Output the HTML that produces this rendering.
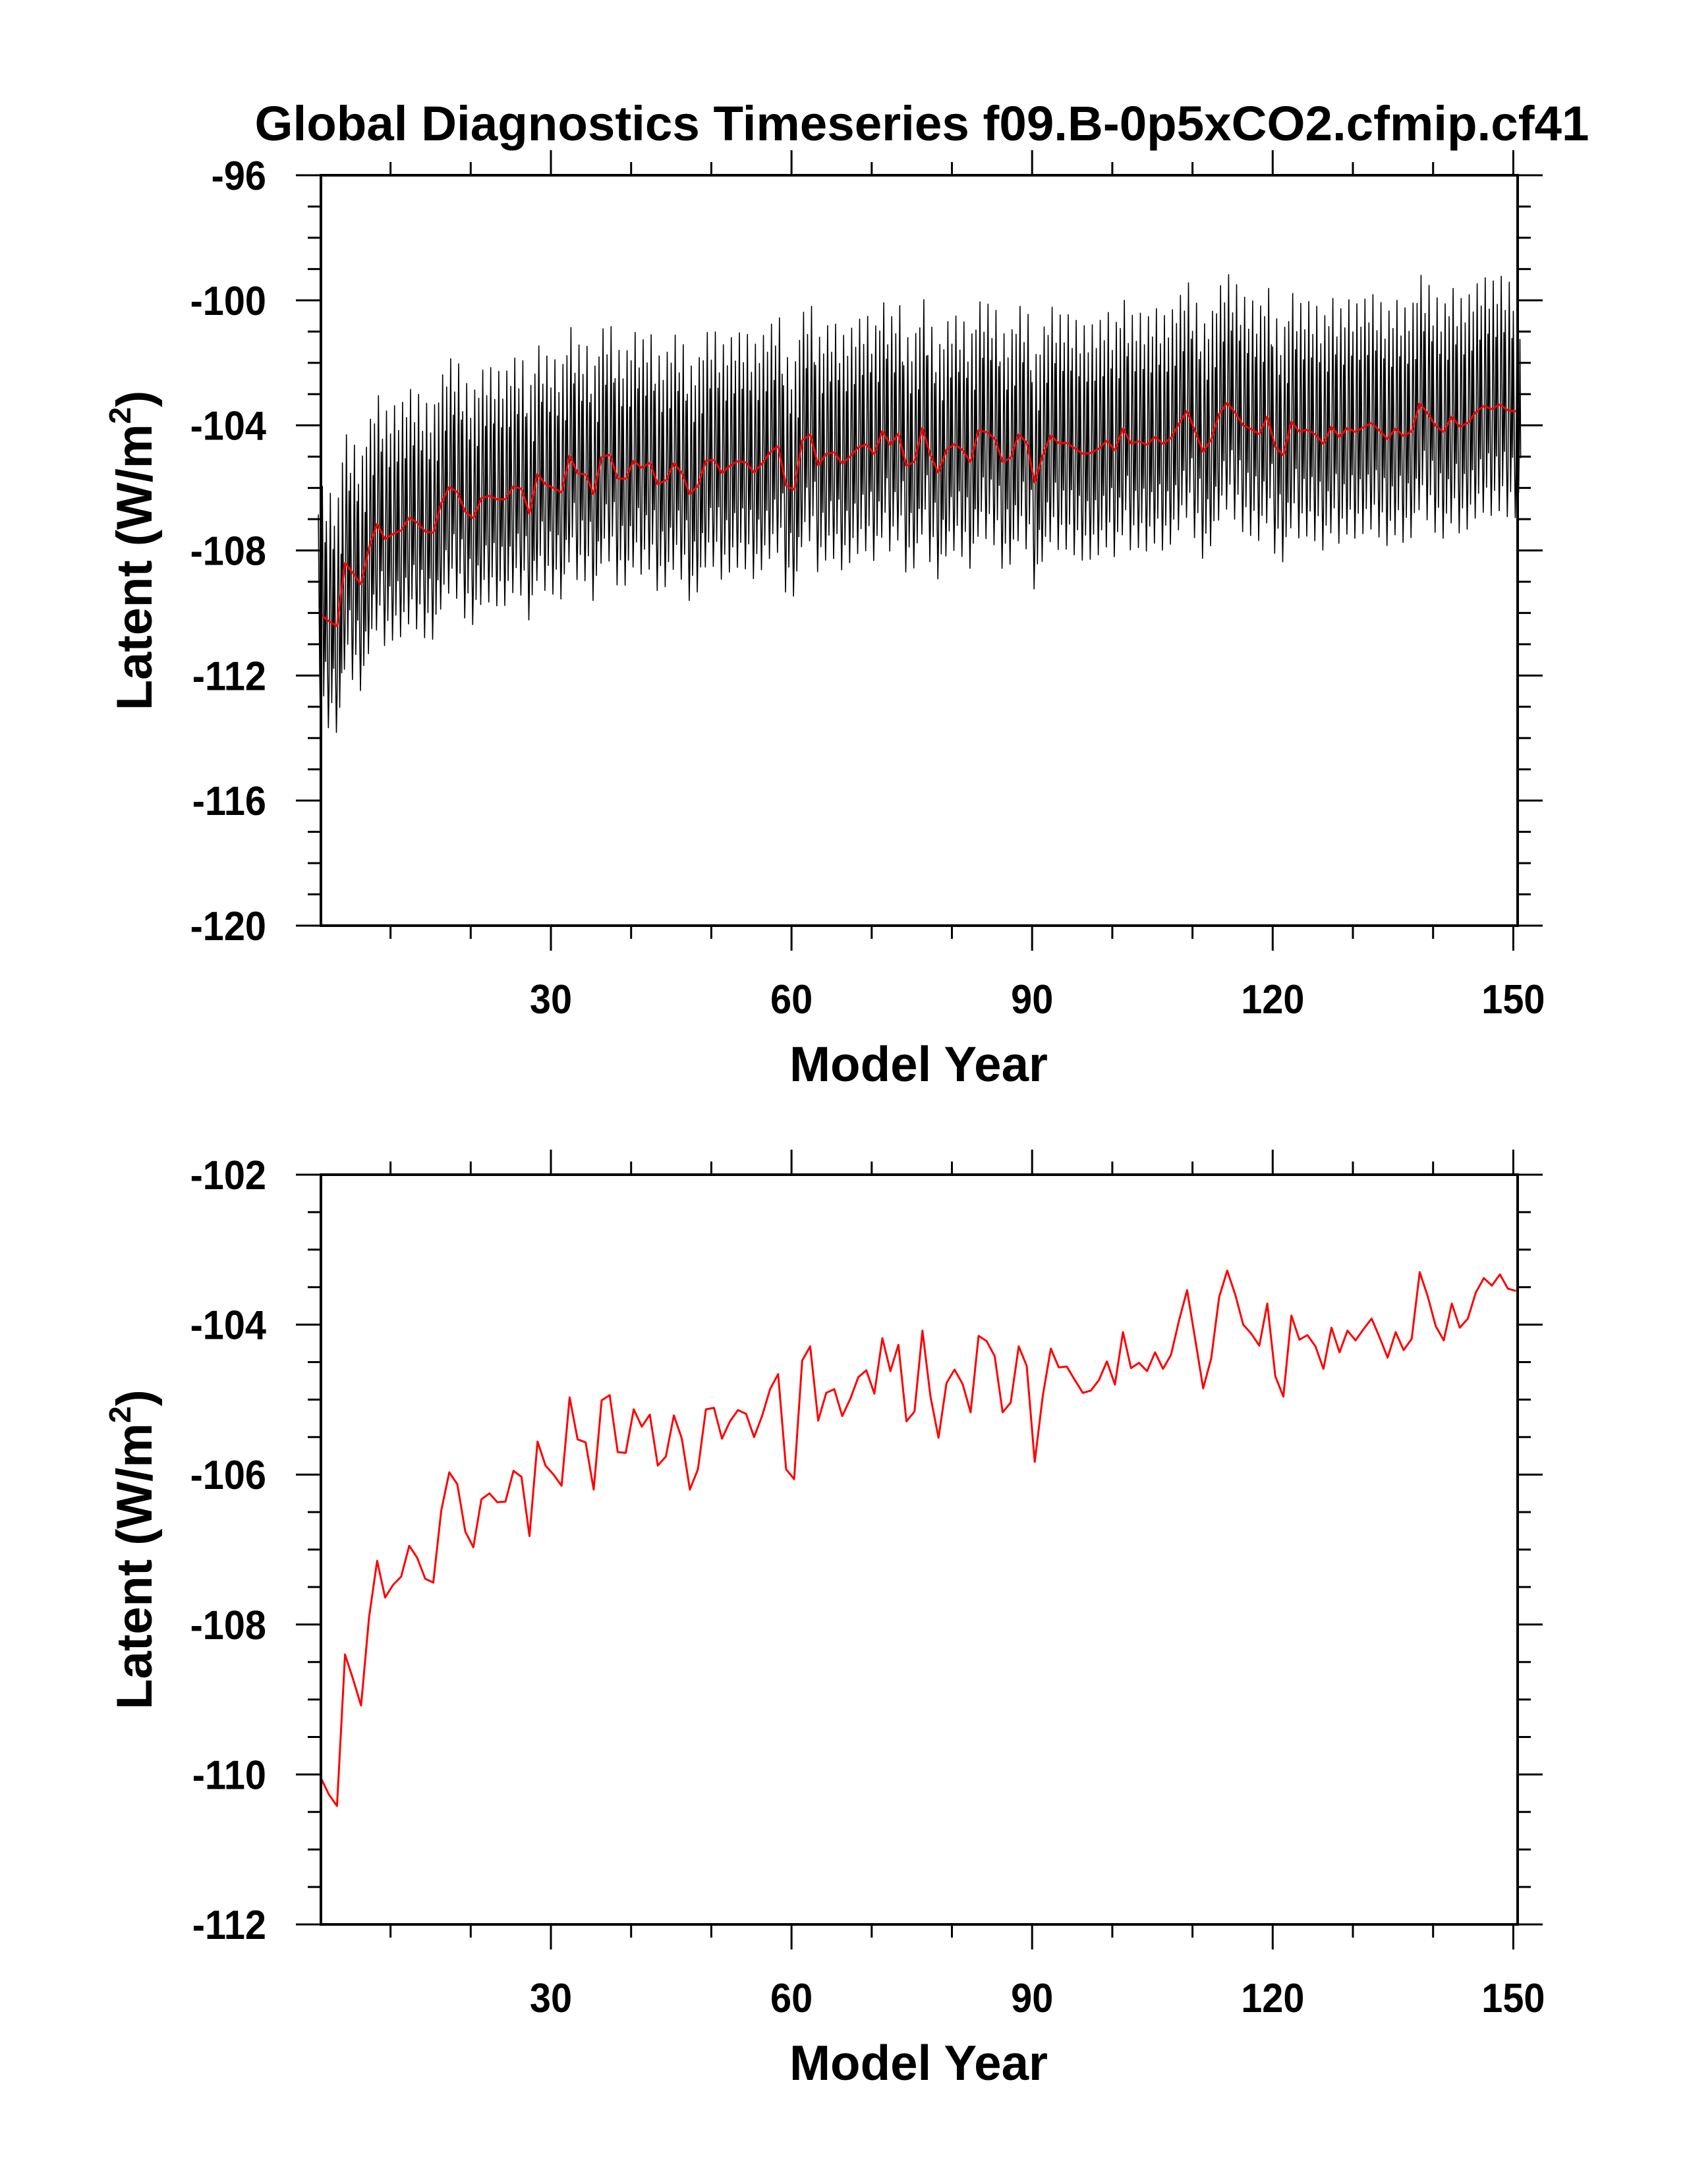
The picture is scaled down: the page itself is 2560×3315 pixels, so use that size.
<!DOCTYPE html>
<html><head><meta charset="utf-8"><style>
html,body{margin:0;padding:0;background:#fff;}
svg text{font-family:"Liberation Sans",sans-serif;font-weight:bold;fill:#000;}
</style></head><body>
<svg id="chart" width="2560" height="3310" viewBox="0 0 2560 3310" xmlns="http://www.w3.org/2000/svg">
<rect x="0" y="0" width="2560" height="3310" fill="#fff"/>
<text x="1399" y="213" font-size="74" text-anchor="middle" textLength="2025" lengthAdjust="spacingAndGlyphs">Global Diagnostics Timeseries f09.B-0p5xCO2.cfmip.cf41</text>
<g id="top"></g>
<g id="bot"></g>
</svg>
<script>
// Annual mean latent heat flux (W/m2), years 1..150
const annualMeans = [-110.05,-110.27,-110.42,-108.40,-108.73,-109.08,-107.90,-107.15,-107.64,-107.47,
-107.36,-106.95,-107.11,-107.39,-107.44,-106.48,-105.97,-106.13,-106.76,-106.97,
-106.33,-106.25,-106.37,-106.36,-105.95,-106.03,-106.82,-105.56,-105.88,-106.00,
-106.15,-104.97,-105.53,-105.57,-106.20,-105.01,-104.94,-105.70,-105.71,-105.13,
-105.36,-105.20,-105.88,-105.76,-105.21,-105.52,-106.20,-105.93,-105.13,-105.11,
-105.52,-105.29,-105.14,-105.19,-105.50,-105.22,-104.86,-104.66,-105.93,-106.06,
-104.48,-104.29,-105.28,-104.91,-104.86,-105.22,-104.99,-104.70,-104.61,-104.92,
-104.18,-104.62,-104.27,-105.29,-105.16,-104.08,-104.96,-105.51,-104.78,-104.60,
-104.79,-105.17,-104.15,-104.22,-104.42,-105.17,-105.04,-104.29,-104.55,-105.83,
-104.95,-104.32,-104.57,-104.56,-104.74,-104.91,-104.88,-104.74,-104.49,-104.80,
-104.10,-104.58,-104.51,-104.62,-104.37,-104.59,-104.40,-103.94,-103.54,-104.19,
-104.85,-104.45,-103.63,-103.28,-103.60,-104.00,-104.12,-104.28,-103.72,-104.69,
-104.96,-103.88,-104.20,-104.14,-104.29,-104.59,-104.04,-104.37,-104.08,-104.21,
-104.06,-103.92,-104.17,-104.44,-104.10,-104.34,-104.19,-103.30,-103.62,-104.02,
-104.21,-103.72,-104.04,-103.92,-103.57,-103.38,-103.48,-103.33,-103.52,-103.55];
// Approximate monthly anomaly pattern about the annual mean (W/m2)
const monthlyAnomaly = [3.2,0.6,-1.8,-3.4,-2.2,1.4,4.1,0.9,-2.6,-1.0,2.3,-1.5];
const xTickValues = [30,60,90,120,150];
const topYTicks = [-120,-116,-112,-108,-104,-100,-96];
const botYTicks = [-112,-110,-108,-106,-104,-102];

const NS="http://www.w3.org/2000/svg";
const L=487, R=2303;
function xs(v){return 836+(v-30)*12.17;}
function mk(tag,attrs,parent){const e=document.createElementNS(NS,tag);for(const k in attrs)e.setAttribute(k,attrs[k]);parent.appendChild(e);return e;}

function panel(g,T,B,ymin,ymax,majorStep,minorStep,yticks,series){
  const ys=v=>B-(v-ymin)/(ymax-ymin)*(B-T);
  series.forEach(s=>{
    const p=mk('polyline',{points:s.pts.map(d=>xs(d[0]).toFixed(1)+','+ys(d[1]).toFixed(1)).join(' '),fill:'none',stroke:s.color,'stroke-width':s.w,'stroke-linejoin':'round'},g);
    
    
  });
  const fr=mk('rect',{x:L,y:T,width:R-L,height:B-T,fill:'none',stroke:'#000','stroke-width':4},g);
  
  
  const tg=mk('g',{stroke:'#000','stroke-width':3},g);
  
  
  for(let v=ymin;v<=ymax+1e-6;v+=minorStep){
    const maj=Math.abs((v-ymin)/majorStep-Math.round((v-ymin)/majorStep))<1e-6;
    const len=maj?38:20,y=ys(v);
    mk('line',{x1:L-len,y1:y,x2:L,y2:y},tg);
    mk('line',{x1:R,y1:y,x2:R+len,y2:y},tg);
  }
  const xg=mk('g',{stroke:'#000','stroke-width':3},g);
  
  
  for(let v=10;v<=150;v+=10){
    const maj=v%30===0,len=maj?38:20,x=xs(v);
    mk('line',{x1:x,y1:B,x2:x,y2:B+len},xg);
    mk('line',{x1:x,y1:T-len,x2:x,y2:T},xg);
  }
  yticks.forEach(v=>{
    const t=mk('text',{'font-size':62,'text-anchor':'end',transform:`translate(404,${ys(v)+22}) scale(0.93,1)`},g);
    t.textContent=String(v);
    
    
  });
  xTickValues.forEach(v=>{
    const t=mk('text',{'font-size':62,'text-anchor':'middle',transform:`translate(${xs(v)},${B+133}) scale(0.93,1)`},g);
    t.textContent=String(v);
    
    
  });
  const xt=mk('text',{'font-size':75,'text-anchor':'middle',x:1394,y:B+236,textLength:392,lengthAdjust:'spacingAndGlyphs'},g);
  xt.textContent='Model Year';
  
  
  const cy=(T+B)/2;
  const yt=mk('text',{'font-size':76,'text-anchor':'middle',transform:`translate(230,${cy}) rotate(-90)`},g);
  
  
  yt.innerHTML='Latent (W/m<tspan font-size="46" dy="-32">2</tspan><tspan dy="32">)</tspan>';
}

const annualPts=annualMeans.map((v,i)=>[i+1.33,v]);
const monthlyPts=[];
annualMeans.forEach((v,i)=>{monthlyAnomaly.forEach((a,m)=>{monthlyPts.push([i+1+m/12.0,v+a]);});});

panel(document.getElementById('top'),266,1405,-120,-96,4,1,topYTicks,[
  {pts:monthlyPts,color:'#000',w:1.6,name:'monthly-series-line'},
  {pts:annualPts,color:'#f00',w:3,name:'annual-mean-line-top'}
]);
panel(document.getElementById('bot'),1783,2921,-112,-102,2,0.5,botYTicks,[
  {pts:annualPts,color:'#f00',w:3,name:'annual-mean-line'}
]);
</script>
</body></html>
